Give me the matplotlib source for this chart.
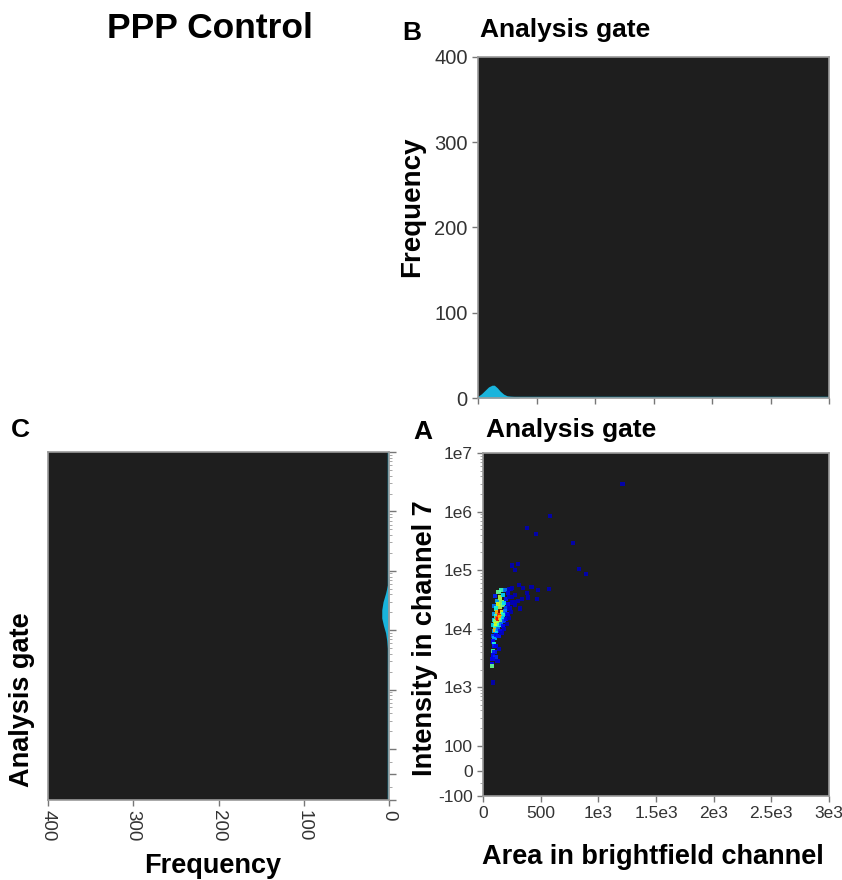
import numpy as np
import matplotlib
matplotlib.use('Agg')
import matplotlib.pyplot as plt

plt.rcParams['font.family'] = ['Liberation Sans', 'DejaVu Sans']

# ---- data ----
# B: frequency vs area in brightfield channel
hist_area = [0, 30, 60, 90, 120, 140, 165, 190, 220, 250, 280, 340, 355, 3000]
hist_area_freq = [2, 5, 9, 13, 15, 15, 12, 8, 4.5, 2.5, 2, 1.5, 0, 0]

# C: frequency vs intensity in channel 7
hist_int = [-100, 2000, 3000, 4500, 6500, 9000, 1.2e4, 1.6e4, 2.2e4, 3.0e4, 4.2e4, 6e4, 8.5e4, 1e7]
hist_int_freq = [0, 0, 0.5, 1.5, 2.5, 4, 6.5, 8.5, 8.5, 7, 4, 1.5, 0, 0]

# A: density dot plot (area, intensity, density level 0..1)
area = [105, 120, 135, 150, 160, 175, 190, 200, 215, 230, 240,
        100, 115, 130, 145, 160, 170, 185, 200, 215, 230, 250,
        100, 112, 125, 138, 150, 165, 178, 190, 205, 220, 245,
        95, 108, 120, 132, 145, 158, 170, 185, 200, 225,
        90, 102, 115, 128, 140, 155, 175, 205,
        92, 105, 118, 130, 150, 180,
        88, 100, 112, 135, 160,
        90, 98, 92, 115, 85, 100, 140, 90, 108, 82, 125, 80, 80, 90,
        225, 250, 265, 255, 280, 275, 300, 310, 350, 340, 390, 420, 470, 480, 570, 320, 380,
        250, 300, 275,
        380, 460, 580, 780, 830, 890, 1210]
intensity = [3.6e4, 3.0e4, 4.2e4, 3.4e4, 4.5e4, 3.8e4, 4.6e4, 3.2e4, 4.0e4, 3.5e4, 4.8e4,
             2.4e4, 2.2e4, 2.6e4, 2.3e4, 2.8e4, 2.5e4, 2.7e4, 2.2e4, 2.6e4, 2.2e4, 2.8e4,
             1.8e4, 1.65e4, 1.9e4, 1.7e4, 2.0e4, 1.9e4, 1.75e4, 2.0e4, 1.8e4, 1.7e4, 1.9e4,
             1.4e4, 1.35e4, 1.5e4, 1.45e4, 1.55e4, 1.4e4, 1.5e4, 1.35e4, 1.45e4, 1.5e4,
             1.15e4, 1.1e4, 1.2e4, 1.25e4, 1.15e4, 1.2e4, 1.1e4, 1.2e4,
             9.0e3, 9.5e3, 9.0e3, 9.8e3, 9.2e3, 1.0e4,
             7.5e3, 7.0e3, 7.8e3, 7.5e3, 8.5e3,
             6.0e3, 5.5e3, 5.0e3, 5.0e3, 4.2e3, 4.0e3, 4.5e3, 3.5e3, 3.3e3, 3.0e3, 2.8e3, 2.5e3, 2.3e3, 1.2e3,
             4.8e4, 3.5e4, 2.8e4, 5.0e4, 2.5e4, 3.8e4, 3.0e4, 5.5e4, 5.0e4, 3.2e4, 3.4e4, 5.2e4, 3.2e4, 4.5e4, 4.8e4, 2.2e4, 4.0e4,
             1.2e5, 1.25e5, 1.0e5,
             5.3e5, 4.2e5, 8.5e5, 2.9e5, 1.05e5, 8.5e4, 3.0e6]
level = [0.12, 0.25, 0.45, 0.55, 0.4, 0.3, 0.2, 0.1, 0.05, 0.02, 0.0,
         0.2, 0.35, 0.6, 0.55, 0.5, 0.45, 0.3, 0.15, 0.08, 0.02, 0.0,
         0.25, 0.4, 0.7, 0.85, 1.0, 0.6, 0.35, 0.2, 0.1, 0.04, 0.0,
         0.3, 0.5, 0.8, 0.9, 0.7, 0.45, 0.3, 0.15, 0.06, 0.0,
         0.3, 0.4, 0.6, 0.55, 0.35, 0.2, 0.08, 0.0,
         0.25, 0.7, 0.3, 0.2, 0.08, 0.02,
         0.15, 0.25, 0.08, 0.1, 0.02,
         0.08, 0.35, 0.1, 0.06, 0.4, 0.1, 0.02, 0.08, 0.12, 0.06, 0.02, 0.08, 0.45, 0.0,
         0.02, 0.0, 0.0, 0.0, 0.0, 0.0, 0.0, 0.0, 0.0, 0.0, 0.0, 0.0, 0.0, 0.0, 0.0, 0.0, 0.0,
         0.0, 0.0, 0.0,
         0.0, 0.0, 0.0, 0.0, 0.0, 0.0, 0.0]

int_ticks = [-100, 0, 100, 1e3, 1e4, 1e5, 1e6, 1e7]
int_ticklabels = ['-100', '0', '100', '1e3', '1e4', '1e5', '1e6', '1e7']
area_ticks = [0, 500, 1000, 1500, 2000, 2500, 3000]
area_ticklabels = ['0', '500', '1e3', '1.5e3', '2e3', '2.5e3', '3e3']
freq_ticks = [0, 100, 200, 300, 400]

# ---- hybrid linear/log scale for intensity ----
K = 0.43
def fwd(y):
    y = np.asarray(y, dtype=float)
    return np.where(y > 100, K + np.log10(np.maximum(y, 100) / 100), y / 100 * K)

def inv(f):
    f = np.asarray(f, dtype=float)
    return np.where(f > K, 100 * 10 ** (np.maximum(f, K) - K), f / K * 100)

minor_int = [m * 10 ** k for k in range(2, 7) for m in range(2, 10)] + [-50, 50]

BG = '#1e1e1e'
CYAN = '#19b4dc'
SPINE = '#9a9a9a'
TICKC = '#333333'

fig = plt.figure(figsize=(8.42, 8.80), dpi=100)
W, H = 842, 880

def box(l, t, r, b):
    return [l / W, 1 - b / H, (r - l) / W, (b - t) / H]

def style(ax, size):
    ax.set_facecolor(BG)
    for s in ax.spines.values():
        s.set_color(SPINE)
        s.set_linewidth(1.2)
    ax.tick_params(direction='out', length=4, color='#777777', labelcolor=TICKC, labelsize=size, width=1)

# B panel
axB = fig.add_axes(box(478, 57, 829, 398))
style(axB, 14.5)
axB.fill_between(hist_area, 0, hist_area_freq, color=CYAN, lw=0)
axB.plot([0, 3000], [0, 0], color=CYAN, lw=2.5)
axB.set_xlim(0, 3000)
axB.set_ylim(0, 400)
axB.set_xticks(area_ticks)
axB.set_xticklabels([])
axB.set_yticks(freq_ticks)

# A panel
axA = fig.add_axes(box(483, 453, 829, 796))
style(axA, 12.5)
axA.set_yscale('function', functions=(fwd, inv))
axA.scatter(area, intensity, c=level, cmap='jet', vmin=-0.05, vmax=1, marker='s', s=9, linewidths=0, alpha=0.9)
axA.set_xlim(0, 3000)
axA.set_ylim(-100, 1e7)
axA.set_xticks(area_ticks)
axA.set_xticklabels(area_ticklabels)
axA.set_yticks(int_ticks)
axA.set_yticklabels(int_ticklabels)
axA.set_yticks(minor_int, minor=True)
axA.tick_params(axis='y', which='minor', length=2.5, color='#999999')

# C panel
axC = fig.add_axes(box(48, 452, 389, 800))
style(axC, 13.5)
axC.set_yscale('function', functions=(fwd, inv))
axC.fill_betweenx(hist_int, 0, hist_int_freq, color=CYAN, lw=0)
axC.plot([0, 0], [-100, 1e7], color=CYAN, lw=2.5)
axC.set_xlim(400, 0)
axC.set_ylim(-100, 1e7)
axC.set_xticks(freq_ticks)
axC.set_xticklabels([str(v) for v in freq_ticks], rotation=-90)
axC.yaxis.tick_right()
axC.set_yticks(int_ticks)
axC.set_yticklabels([])
axC.set_yticks(minor_int, minor=True)
axC.tick_params(axis='y', which='minor', length=2.5, color='#999999')
axC.tick_params(axis='y', which='major', length=5)

# texts
bold = dict(fontweight='bold', ha='center', va='center')
fig.text(210 / W, 1 - 28 / H, 'PPP Control', fontsize=25.5, **bold)
fig.text(412 / W, 1 - 33 / H, 'B', fontsize=19, **bold)
fig.text(565 / W, 1 - 30 / H, 'Analysis gate', fontsize=19, **bold)
fig.text(20 / W, 1 - 430 / H, 'C', fontsize=19, **bold)
fig.text(423 / W, 1 - 432 / H, 'A', fontsize=19, **bold)
fig.text(571 / W, 1 - 430 / H, 'Analysis gate', fontsize=19, **bold)
fig.text(412 / W, 1 - 207 / H, 'Frequency', fontsize=20, rotation=90, **bold)
fig.text(425 / W, 1 - 638 / H, 'Intensity in channel 7', fontsize=19.5, rotation=90, **bold)
fig.text(22 / W, 1 - 700 / H, 'Analysis gate', fontsize=19.5, rotation=90, **bold)
fig.text(213 / W, 1 - 866 / H, 'Frequency', fontsize=19.5, **bold)
fig.text(653 / W, 1 - 857 / H, 'Area in brightfield channel', fontsize=19.5, **bold)

fig.savefig('out.png', dpi=100, facecolor='white')
